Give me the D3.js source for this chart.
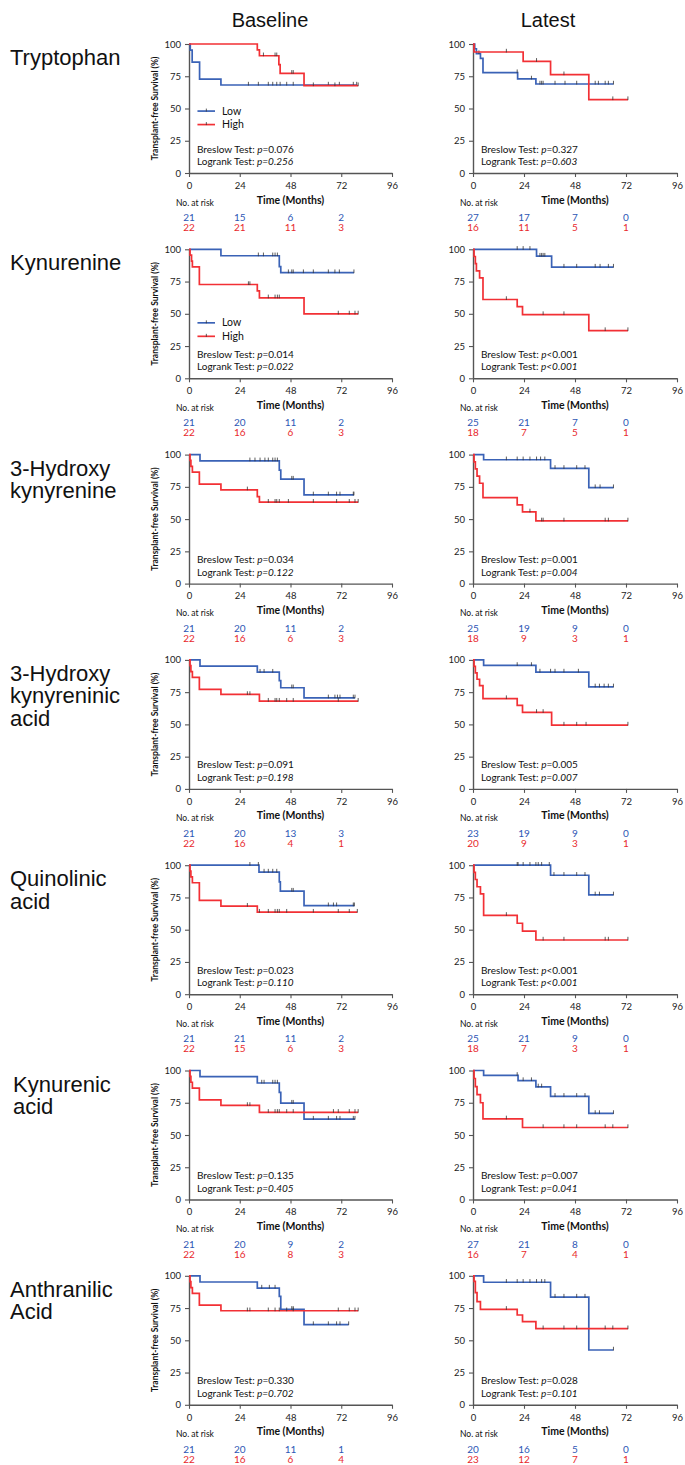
<!DOCTYPE html>
<html>
<head>
<meta charset="UTF-8">
<title>Transplant-free survival by metabolite level</title>
<script src="https://cdn.jsdelivr.net/npm/d3@7"></script>
<style>
body { margin: 0; background: #fff; }
</style>
</head>
<body>
<script>
// row labels and column titles
var metabolites = [["Tryptophan"], ["Kynurenine"], ["3-Hydroxy", "kynyrenine"],
                   ["3-Hydroxy", "kynyreninic", "acid"], ["Quinolinic", "acid"],
                   ["Kynurenic", "acid"], ["Anthranilic", "Acid"]];
var columns = ["Baseline", "Latest"];
var groups = ["Low", "High"];
var timeTicks = [0, 24, 48, 72, 96];
var survTicks = [0, 25, 50, 75, 100];

// steps: [time (months), survival (%)] ; cens: censored times (last one = end of curve)
// Tryptophan
var trpBLow = [[0,100],[0.6,95.2],[1.5,86],[5,72.7],[15.1,68.2]];
var trpBLowCens = [28.1,32.8,37.5,39.6,41.5,43.1,46.2,49.3,65.9,71.1,77.7,79.3];
var trpBHigh = [[0,100],[32.3,95.5],[33.3,90.9],[42.5,84],[43.1,77.3],[54.4,67.7]];
var trpBHighCens = [35.2,40.7,41.5,48.6,49.3,58.8,69,80];
var trpLLow = [[0,100],[0.8,96.3],[1.6,92.6],[3.5,88.9],[4.7,77.8],[21,72.9],[29.6,69]];
var trpLLowCens = [2.8,20.8,27.5,31.5,32.3,33,38.6,43.3,48.8,57.5,59,62.2,63.7,66.1];
var trpLHigh = [[0,100],[0.5,93.8],[23.6,86.6],[36.5,76.2],[54.5,56.9]];
var trpLHighCens = [15.7,29.9,42.8,65.8,72.9];
// Kynurenine
var kynBLow = [[0,100],[15.1,95],[42.7,86.5],[43.4,81.9]];
var kynBLowCens = [32.8,35.2,39.6,40.7,41.8,47,48.6,49.3,54.1,58.8,65.9,69,71.1,78];
var kynBHigh = [[0,100],[0.5,95.5],[1.2,90.9],[1.6,86.4],[4.9,72.7],[32.3,67.7],[33.3,62.4],[54.4,49.9]];
var kynBHighCens = [28.1,28.8,37.5,40.7,41.8,42.7,70.6,75.8,78.5,80];
var kynLLow = [[0,100],[29.9,94.7],[37,86.2]];
var kynLLowCens = [20.8,23.6,26.8,31.5,32.3,33,33.8,42.8,48.8,57.5,59.8,63.7,66.1];
var kynLHigh = [[0,100],[0.5,94.4],[1.1,88.9],[1.6,83.3],[3.1,77.8],[4.7,61.1],[20.8,55.6],[23.3,49.4],[54.5,37]];
var kynLHighCens = [15.7,33,42.8,62.2,72.9];
// 3-Hydroxy kynyrenine
var hkBLow = [[0,100],[5.2,95.2],[42.7,88],[43.4,81],[54.4,68.8]];
var hkBLowCens = [28.8,31.2,33.6,35.9,37.5,39.6,40.7,41.8,48.6,49.3,58.8,65.9,69.8,71.4,77.7,78];
var hkBHigh = [[0,100],[0.5,95.5],[0.9,90.9],[1.6,86.4],[4.9,77.1],[15.1,72.7],[32.3,67.5],[33.3,63.1]];
var hkBHighCens = [27.6,37.5,40.7,41.5,42.7,47,58.8,69.8,75.8,78.5,80];
var hkLLow = [[0,100],[5,96],[36.5,89.3],[54.5,74.4]];
var hkLLowCens = [15.7,20.8,23.6,26.8,29.9,31.8,33.8,38.6,42.8,48.8,52.7,57.5,59.8,66.1];
var hkLHigh = [[0,100],[0.5,94.4],[1.1,88.9],[1.9,83.3],[3.1,77.8],[4.7,66.7],[20.8,61],[23.3,55.6],[29.6,48.6]];
var hkLHighCens = [26.8,32.3,33,42.8,62.2,63.7,72.9];
// 3-Hydroxy kynyreninic acid
var hkaBLow = [[0,100],[5.2,95.2],[32.3,90.5],[42.7,84],[43.4,78.4],[54.4,70.6]];
var hkaBLowCens = [33.6,35.5,39.6,48.6,49.3,65.9,69,70.2,71.4,77.7,78.5];
var hkaBHigh = [[0,100],[0.5,95.5],[0.9,90.9],[1.6,86.4],[4.9,77.1],[15.1,73.2],[33.3,68]];
var hkaBHighCens = [27.6,28.8,37.5,40.7,41.5,42.7,46.2,49.3,70.6,80];
var hkaLLow = [[0,100],[5,95.7],[29.6,90.6],[54.5,79.1]];
var hkaLLowCens = [20.8,27.5,31.5,36.5,38.6,42.8,49.6,57.5,59.5,61.7,63.7,66.1];
var hkaLHigh = [[0,100],[0.5,95],[1.1,90],[1.9,85],[3.1,80],[4.7,70],[20.8,64.8],[23.3,59.3],[37,49.5]];
var hkaLHighCens = [15.7,29.9,33,42.8,48.8,53.2,72.9];
// Quinolinic acid
var quiBLow = [[0,100],[33.1,94.7],[42.7,87],[43.2,79.9],[54.4,68.6]];
var quiBLowCens = [28.8,32.8,35.5,37.5,39.6,41.5,48.6,49.3,65.9,68.3,69.8,77.7,78.2];
var quiBHigh = [[0,100],[0.5,95.5],[0.9,90.9],[1.6,86.4],[4.9,72.7],[15.1,68.2],[32.3,63.6]];
var quiBHighCens = [27.6,33.3,37.5,40.7,41.8,42.7,46.2,58.8,70.6,75.8,79.6];
var quiLLow = [[0,100],[36.5,92.2],[54.5,77]];
var quiLLowCens = [20.8,21.2,23.6,26.8,29.6,30.7,32.3,35.9,38.1,42.8,48.8,52.7,57.5,59.5,66.1];
var quiLHigh = [[0,100],[0.5,94.4],[1.1,88.9],[1.9,83.3],[3.5,77.8],[5,61.1],[20.8,55],[23.3,48.9],[29.6,42]];
var quiLHighCens = [15.7,33,42.8,62.2,63.7,72.9];
// Kynurenic acid
var kyaBLow = [[0,100],[5.2,95.2],[32.3,90.3],[42.7,83],[43.4,74.7],[54.4,62.3]];
var kyaBLowCens = [34.4,35.5,39.6,40.7,41.8,48.6,49.3,58.8,65.9,69.8,71.4,77.7,78.5];
var kyaBHigh = [[0,100],[0.5,95.5],[0.9,90.9],[1.6,86.4],[4.9,77.3],[15.1,72.9],[33.3,67.6]];
var kyaBHighCens = [27.6,28.8,37.5,40.7,41.8,42.7,46.2,49.3,68.3,70.6,75.8,78.5,80];
var kyaLLow = [[0,100],[5,96.2],[21.2,92.2],[29.6,87.3],[36.5,80],[54.5,66.7]];
var kyaLLowCens = [20.8,23.6,27.5,30.7,32.3,38.6,42.8,48.8,52.7,57.5,59.5,66.1];
var kyaLHigh = [[0,100],[0.5,93.8],[1.1,87.5],[1.9,81.3],[3.5,75],[4.7,62.5],[23.3,55.8]];
var kyaLHighCens = [15.7,33,42.8,48.8,62.2,65.8,72.9];
// Anthranilic acid
var antBLow = [[0,100],[5.2,95.2],[32.3,90.5],[42.7,84],[43.4,74],[54.4,62.2]];
var antBLowCens = [34.4,38,40.7,48.6,49.3,58.8,65.9,69.8,71.4,75.5];
var antBHigh = [[0,100],[0.5,95.5],[0.9,90.9],[1.6,86.4],[4.9,77.3],[15.1,72.9]];
var antBHighCens = [27.6,28.8,37.5,40.7,42.7,46.2,49.3,70.6,75.8,78.5,80];
var antLLow = [[0,100],[5,95],[36.5,83.5],[54.5,42.5]];
var antLLowCens = [15.7,20.8,23.6,26.8,29.9,32.3,33.8,38.6,42.8,48.8,52.7,66.1];
var antLHigh = [[0,100],[0.5,95.7],[1.1,87],[1.9,80],[3.5,74],[20.8,69.6],[23.3,64.5],[29.6,59]];
var antLHighCens = [15.7,33,42.8,48.8,62.2,65.8,72.9];

// numbers at risk at 0, 24, 48, 72 months
var riskBaseLow  = [[21,15,6,2],[21,20,11,2],[21,20,11,2],[21,20,13,3],[21,21,11,2],[21,20,9,2],[21,20,11,1]];
var riskBaseHigh = [[22,21,11,3],[22,16,6,3],[22,16,6,3],[22,16,4,1],[22,15,6,3],[22,16,8,3],[22,16,6,4]];
var riskLateLow  = [[27,17,7,0],[25,21,7,0],[25,19,9,0],[23,19,9,0],[25,21,9,0],[27,21,8,0],[20,16,5,0]];
var riskLateHigh = [[16,11,5,1],[18,7,5,1],[18,9,3,1],[20,9,3,1],[18,7,3,1],[16,7,4,1],[23,12,7,1]];

// p values: [Breslow, Logrank]
var pBase = [["=0.076","=0.256"],["=0.014","=0.022"],["=0.034","=0.122"],["=0.091","=0.198"],
             ["=0.023","=0.110"],["=0.135","=0.405"],["=0.330","=0.702"]];
var pLate = [["=0.327","=0.603"],["<0.001","<0.001"],["=0.001","=0.004"],["=0.005","=0.007"],
             ["<0.001","<0.001"],["=0.007","=0.041"],["=0.028","=0.101"]];

var curves = [
  [[trpBLow,trpBLowCens,trpBHigh,trpBHighCens],[trpLLow,trpLLowCens,trpLHigh,trpLHighCens]],
  [[kynBLow,kynBLowCens,kynBHigh,kynBHighCens],[kynLLow,kynLLowCens,kynLHigh,kynLHighCens]],
  [[hkBLow,hkBLowCens,hkBHigh,hkBHighCens],[hkLLow,hkLLowCens,hkLHigh,hkLHighCens]],
  [[hkaBLow,hkaBLowCens,hkaBHigh,hkaBHighCens],[hkaLLow,hkaLLowCens,hkaLHigh,hkaLHighCens]],
  [[quiBLow,quiBLowCens,quiBHigh,quiBHighCens],[quiLLow,quiLLowCens,quiLHigh,quiLHighCens]],
  [[kyaBLow,kyaBLowCens,kyaBHigh,kyaBHighCens],[kyaLLow,kyaLLowCens,kyaLHigh,kyaLHighCens]],
  [[antBLow,antBLowCens,antBHigh,antBHighCens],[antLLow,antLLowCens,antLHigh,antLHighCens]]
];
var legendLevel = [48, 43]; // legend only in the first two baseline panels

var W = 685, H = 1465;
var top0 = 44, rowGap = 205.3, plotH = 129;
var colX = [189, 473], plotW = [203, 204];
var blue = "#3a62b6", red = "#f23035", blueTxt = "#2d57b5", redTxt = "#e8292c";
var font = "Lato, 'Open Sans', sans-serif";

var svg = d3.select("body").append("svg")
  .attr("width", W).attr("height", H)
  .style("font-family", font);

svg.selectAll("text.col")
  .data(columns).enter().append("text")
  .attr("x", function(d, i){ return [270, 548][i]; })
  .attr("y", 27)
  .attr("text-anchor", "middle")
  .style("font-family", "'Liberation Sans', Arial, sans-serif")
  .attr("font-size", "20px")
  .attr("fill", "#111")
  .text(function(d){ return d; });

function survAt(steps, t) {
  var s = steps[0][1];
  steps.forEach(function(p){ if (p[0] <= t) s = p[1]; });
  return s;
}

metabolites.forEach(function(lines, r) {
  var top = top0 + r * rowGap;
  var lx = r === 5 ? 13 : 10;

  svg.append("text")
    .attr("x", lx).attr("y", top + 21)
    .style("font-family", "'Liberation Sans', Arial, sans-serif")
    .attr("font-size", "22px").attr("fill", "#111")
    .selectAll("tspan").data(lines).enter().append("tspan")
    .attr("x", lx).attr("dy", function(d, i){ return i ? 22.5 : 0; })
    .text(function(d){ return d; });

  columns.forEach(function(col, c) {
    var g = svg.append("g").attr("transform", "translate(" + colX[c] + "," + top + ")");
    var x = d3.scaleLinear().domain([0, 96]).range([0, plotW[c]]);
    var y = d3.scaleLinear().domain([0, 100]).range([plotH, 0]);

    var ya = g.append("g").call(d3.axisLeft(y).tickValues(survTicks).tickSize(4).tickSizeOuter(0).tickPadding(4));
    var xa = g.append("g").attr("transform", "translate(0," + plotH + ")")
      .call(d3.axisBottom(x).tickValues(timeTicks).tickSize(4).tickSizeOuter(0).tickPadding(5));
    [ya, xa].forEach(function(a){
      a.select(".domain").attr("stroke", "#555").attr("stroke-width", 1.4);
      a.selectAll(".tick line").attr("stroke", "#555").attr("stroke-width", 1.1);
      a.selectAll(".tick text").attr("font-size", "9.5px").attr("fill", "#222").style("font-family", font);
    });

    var set = curves[r][c];
    var line = d3.line().curve(d3.curveStepAfter)
      .x(function(d){ return x(d[0]); }).y(function(d){ return y(d[1]); });
    [0, 1].forEach(function(k) {
      var steps = set[k * 2], cens = set[k * 2 + 1];
      var end = cens[cens.length - 1];
      var pts = steps.concat([[end, steps[steps.length - 1][1]]]);
      var color = k ? red : blue;
      g.append("path").datum(pts)
        .attr("d", line).attr("fill", "none")
        .attr("stroke", color).attr("stroke-width", 1.7);
      g.selectAll(null).data(cens).enter().append("line")
        .attr("x1", function(t){ return x(t); }).attr("x2", function(t){ return x(t); })
        .attr("y1", function(t){ return y(survAt(steps, t)) - 3.2; })
        .attr("y2", function(t){ return y(survAt(steps, t)) + 0.5; })
        .attr("stroke", "#333").attr("stroke-width", 0.8);
    });

    // p values
    var pv = (c ? pLate : pBase)[r];
    var pt = g.append("text").attr("x", 8).attr("y", 108.5).attr("font-size", "10px").attr("fill", "#111");
    pt.append("tspan").text("Breslow Test: ");
    pt.append("tspan").attr("font-style", "italic").text("p");
    pt.append("tspan").text(pv[0]);
    var lt = g.append("text").attr("x", 8).attr("y", 121).attr("font-size", "10px").attr("fill", "#111");
    lt.append("tspan").text("Logrank Test: ");
    lt.append("tspan").attr("font-style", "italic").text("p" + pv[1]);

    g.append("text")
      .attr("x", plotW[c] / 2).attr("y", 159.5)
      .attr("text-anchor", "middle").attr("font-size", "10.5px").attr("font-weight", "bold").attr("fill", "#111")
      .text("Time (Months)");

    g.append("text")
      .attr("x", -13).attr("y", 161.5)
      .attr("font-size", "8.5px").attr("fill", "#111")
      .text("No. at risk");

    var rl = (c ? riskLateLow : riskBaseLow)[r], rh = (c ? riskLateHigh : riskBaseHigh)[r];
    [[rl, blueTxt, 177], [rh, redTxt, 187]].forEach(function(row) {
      g.selectAll(null).data(row[0]).enter().append("text")
        .attr("x", function(d, i){ return x(timeTicks[i]); })
        .attr("y", row[2])
        .attr("text-anchor", "middle").attr("font-size", "10px").attr("fill", row[1])
        .text(function(d){ return d; });
    });

    if (c === 0) {
      g.append("text")
        .attr("transform", "translate(-31," + (plotH / 2) + ") rotate(-90)")
        .attr("text-anchor", "middle").attr("font-size", "8.5px").attr("font-weight", "bold").attr("fill", "#111")
        .text("Transplant-free Survival (%)");
    }

    if (c === 0 && r < legendLevel.length) {
      var ly = y(legendLevel[r]);
      groups.forEach(function(name, k) {
        var yy = ly + k * 13.5;
        g.append("line").attr("x1", x(4)).attr("x2", x(12.3)).attr("y1", yy).attr("y2", yy)
          .attr("stroke", k ? red : blue).attr("stroke-width", 1.7);
        g.append("line").attr("x1", x(8.2)).attr("x2", x(8.2)).attr("y1", yy - 2.5).attr("y2", yy + 0.5)
          .attr("stroke", "#333").attr("stroke-width", 0.8);
        g.append("text").attr("x", x(12.3) + 7).attr("y", yy + 3.5)
          .attr("font-size", "10.5px").attr("fill", "#111").text(name);
      });
    }
  });
});
</script>
</body>
</html>
